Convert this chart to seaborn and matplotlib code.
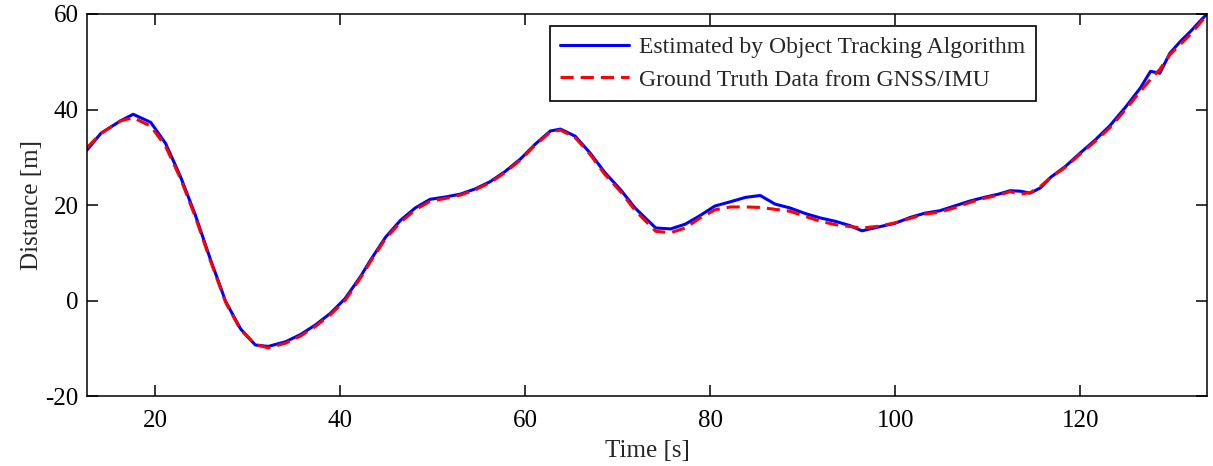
import numpy as np
import pandas as pd
import matplotlib
matplotlib.use("Agg")
import matplotlib.pyplot as plt
import seaborn as sns

# ------------------------------
# data
# ------------------------------
time_s = [12.6, 14.1, 16.2, 17.6, 19.5, 21.1, 22.7, 24.3, 25.9, 27.6,
          29.2, 30.8, 32.2, 34.1, 35.7, 37.3, 38.9, 40.5, 42.2, 43.2,
          44.9, 46.5, 48.1, 49.7, 51.4, 53.0, 54.6, 56.2, 57.8, 59.5,
          61.1, 62.7, 63.8, 65.4, 67.0, 68.6, 70.3, 71.9, 74.1, 75.7,
          77.3, 78.9, 80.5, 82.2, 83.8, 85.4, 87.0, 88.6, 90.3, 91.9,
          93.5, 95.1, 96.4, 98.4, 100.0, 101.6, 103.2, 104.8, 106.4, 108.0,
          109.6, 111.2, 112.4, 113.5, 114.6, 115.7, 116.8, 118.4, 120.0, 121.6,
          123.2, 124.9, 126.5, 127.6, 128.6, 129.7, 130.8, 131.9, 133.0, 133.7]

ground_truth = [32.0, 35.0, 37.6, 38.3, 36.5, 32.3, 25.6, 17.6, 8.6, -0.4,
                -6.1, -9.2, -9.9, -8.9, -7.4, -5.4, -3.0, 0.0, 4.8, 8.0,
                13.0, 16.4, 19.0, 20.8, 21.4, 22.1, 23.2, 24.7, 26.8, 29.5,
                32.6, 35.3, 35.7, 34.1, 30.6, 26.4, 22.8, 18.8, 14.5, 14.2,
                15.2, 17.3, 19.0, 19.6, 19.6, 19.5, 19.1, 18.7, 17.6, 16.6,
                15.9, 15.5, 15.2, 15.6, 16.3, 17.2, 18.1, 18.5, 19.4, 20.5,
                21.4, 22.1, 22.8, 22.3, 22.6, 23.9, 25.8, 27.9, 30.7, 33.3,
                36.2, 40.0, 43.8, 46.3, 48.4, 51.5, 53.6, 55.7, 58.2, 59.8]

estimated = [31.5, 35.0, 37.6, 39.0, 37.3, 32.9, 26.0, 18.0, 8.9, -0.2,
             -5.9, -9.3, -9.6, -8.6, -7.1, -5.1, -2.7, 0.4, 5.1, 8.3,
             13.3, 16.8, 19.4, 21.2, 21.7, 22.3, 23.4, 24.9, 27.0, 29.7,
             32.8, 35.5, 35.9, 34.4, 30.9, 26.8, 23.2, 19.3, 15.2, 15.0,
             16.0, 17.8, 19.8, 20.7, 21.6, 22.0, 20.2, 19.4, 18.2, 17.3,
             16.6, 15.7, 14.6, 15.5, 16.2, 17.4, 18.3, 18.8, 19.8, 20.8,
             21.6, 22.3, 23.0, 22.9, 22.5, 23.6, 25.8, 28.1, 30.9, 33.6,
             36.6, 40.5, 44.5, 48.0, 47.6, 51.8, 54.2, 56.3, 58.6, 60.0]

label_est = "Estimated by Object Tracking Algorithm"
label_gt = "Ground Truth Data from GNSS/IMU"

df = pd.DataFrame({"time": time_s, "est": estimated, "gt": ground_truth})

# ------------------------------
# style
# ------------------------------
sns.set_style("ticks")
plt.rcParams["font.family"] = ["Liberation Serif", "DejaVu Serif"]
plt.rcParams["font.size"] = 18
plt.rcParams["axes.unicode_minus"] = False

fig = plt.figure(figsize=(12.13, 4.66), dpi=100)
ax = fig.add_axes([0.0717, 0.150, 0.9233, 0.820])

sns.lineplot(data=df, x="time", y="est", ax=ax, color="#0000ff",
             linewidth=2.2, label=label_est)
sns.lineplot(data=df, x="time", y="gt", ax=ax, color="#ff0000",
             linewidth=2.2, linestyle=(0, (4.3, 2.3)), label=label_gt)

ax.set_xlim(12.6, 133.7)
ax.set_ylim(-20, 60)
ax.set_xticks([20, 40, 60, 80, 100, 120])
ax.set_yticks([-20, 0, 20, 40, 60])
ax.set_xlabel("Time [s]", fontsize=18, labelpad=6)
ax.set_ylabel("Distance [m]", fontsize=18, labelpad=2)

ax.tick_params(direction="in", length=8, width=1.1, top=True, right=True,
               labelsize=18, colors="black", pad=6)
ax.tick_params(axis="x", pad=10)
for sp in ax.spines.values():
    sp.set_visible(True)
    sp.set_linewidth(1.1)
    sp.set_color("black")

leg = ax.legend(loc="upper right", bbox_to_anchor=(0.847, 0.968),
                borderaxespad=0, fancybox=False, framealpha=1,
                edgecolor="black", fontsize=17, handlelength=2.9,
                handletextpad=0.42, labelspacing=0.45, borderpad=0.45)
leg.get_frame().set_linewidth(1.2)

fig.savefig("out.png", dpi=100)
